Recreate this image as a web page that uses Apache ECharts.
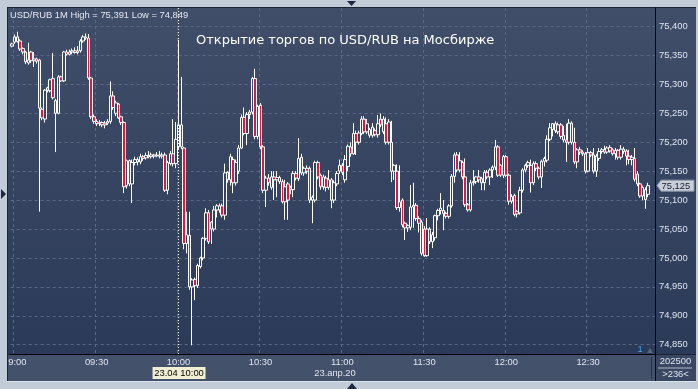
<!DOCTYPE html>
<html><head><meta charset="utf-8">
<script src="https://cdn.jsdelivr.net/npm/echarts@6/dist/echarts.min.js"></script>
<style>html,body{margin:0;padding:0;background:#c2cbd8;overflow:hidden}#c{width:698px;height:389px}</style>
</head><body><div id="c"></div>
<script>
// ---- data (USD/RUB 1-minute candles, 23.04.2020) ----
const opens = [75.366,75.373,75.382,75.375,75.362,75.356,75.337,75.356,75.341,75.344,
75.342,75.257,75.240,75.290,75.289,75.310,75.272,75.250,75.313,75.306,
75.356,75.352,75.356,75.358,75.355,75.358,75.375,75.382,75.380,75.311,
75.244,75.236,75.232,75.234,75.230,75.233,75.236,75.280,75.250,75.266,
75.244,75.234,75.125,75.168,75.128,75.165,75.170,75.166,75.175,75.173,
75.177,75.175,75.178,75.176,75.178,75.176,75.178,75.117,75.163,75.180,
75.163,75.192,75.230,75.190,75.025,75.039,74.950,74.963,74.952,74.985,
75.000,75.034,75.078,75.062,75.050,75.083,75.083,75.090,75.074,75.148,
75.135,75.170,75.130,75.150,75.190,75.243,75.215,75.248,75.252,75.310,
75.210,75.264,75.192,75.117,75.138,75.122,75.140,75.135,75.139,75.132,
75.097,75.128,75.118,75.118,75.146,75.137,75.174,75.147,75.155,75.155,
75.100,75.100,75.165,75.143,75.123,75.138,75.122,75.135,75.100,75.128,
75.150,75.160,75.135,75.158,75.192,75.180,75.215,75.200,75.215,75.240,
75.218,75.222,75.212,75.220,75.213,75.240,75.218,75.232,75.200,75.200,
75.150,75.150,75.087,75.100,75.060,75.052,75.053,75.088,75.091,75.068,
75.062,75.050,75.004,75.050,75.028,75.035,75.073,75.082,75.082,75.077,
75.072,75.090,75.141,75.178,75.152,75.165,75.140,75.092,75.083,75.130,
75.132,75.140,75.137,75.130,75.148,75.140,75.152,75.157,75.192,75.160,
75.143,75.175,75.143,75.098,75.108,75.076,75.078,75.117,75.152,75.160,
75.160,75.130,75.163,75.155,75.140,75.167,75.169,75.205,75.222,75.232,
75.218,75.230,75.212,75.204,75.200,75.233,75.200,75.166,75.187,75.183,
75.180,75.150,75.182,75.178,75.150,75.172,75.184,75.187,75.183,75.191,
75.187,75.180,75.186,75.174,75.188,75.185,75.176,75.170,75.172,75.145,
75.128,75.107,75.118,75.110];
const closes = [75.370,75.382,75.374,75.361,75.356,75.339,75.342,75.341,75.344,75.340,
75.259,75.242,75.290,75.294,75.308,75.277,75.250,75.313,75.306,75.356,
75.352,75.356,75.358,75.355,75.358,75.375,75.382,75.380,75.311,75.244,
75.236,75.232,75.234,75.230,75.233,75.236,75.280,75.260,75.268,75.242,
75.234,75.123,75.168,75.128,75.165,75.170,75.166,75.175,75.172,75.177,
75.175,75.178,75.176,75.178,75.176,75.178,75.117,75.165,75.180,75.163,
75.205,75.230,75.192,75.025,75.040,74.950,74.962,74.952,74.987,75.000,
75.034,75.078,75.028,75.050,75.083,75.090,75.090,75.074,75.147,75.135,
75.175,75.130,75.165,75.190,75.243,75.215,75.248,75.252,75.310,75.210,
75.262,75.192,75.117,75.138,75.130,75.140,75.135,75.139,75.132,75.097,
75.123,75.100,75.121,75.146,75.138,75.172,75.147,75.155,75.150,75.100,
75.105,75.165,75.140,75.123,75.140,75.122,75.135,75.100,75.130,75.146,
75.160,75.148,75.170,75.193,75.180,75.215,75.200,75.216,75.240,75.218,
75.232,75.212,75.226,75.213,75.232,75.230,75.240,75.200,75.235,75.150,
75.160,75.087,75.097,75.057,75.052,75.056,75.088,75.091,75.068,75.060,
75.008,75.004,75.050,75.028,75.040,75.073,75.082,75.086,75.077,75.072,
75.090,75.141,75.178,75.152,75.168,75.140,75.092,75.083,75.130,75.132,
75.140,75.135,75.130,75.148,75.140,75.152,75.157,75.192,75.143,75.143,
75.175,75.143,75.098,75.106,75.075,75.080,75.117,75.152,75.160,75.165,
75.130,75.163,75.155,75.140,75.167,75.172,75.205,75.225,75.232,75.220,
75.230,75.210,75.204,75.200,75.233,75.200,75.166,75.187,75.183,75.180,
75.150,75.182,75.178,75.150,75.176,75.184,75.187,75.183,75.190,75.185,
75.180,75.186,75.174,75.188,75.184,75.176,75.170,75.174,75.136,75.128,
75.107,75.122,75.101,75.125];
const lows = [75.364,75.370,75.372,75.358,75.352,75.335,75.334,75.337,75.330,75.336,
75.080,75.238,75.234,75.286,75.286,75.274,75.183,75.248,75.304,75.304,
75.350,75.350,75.352,75.353,75.352,75.355,75.372,75.377,75.308,75.240,
75.232,75.228,75.228,75.226,75.224,75.230,75.232,75.256,75.245,75.240,
75.230,75.112,75.120,75.124,75.095,75.160,75.160,75.162,75.168,75.170,
75.172,75.172,75.172,75.174,75.172,75.172,75.114,75.110,75.160,75.158,
75.155,75.188,75.188,75.015,75.008,74.945,74.849,74.927,74.948,74.982,
74.996,75.030,75.024,75.024,75.046,75.070,75.078,75.070,75.066,75.130,
75.125,75.112,75.125,75.145,75.188,75.212,75.195,75.240,75.248,75.205,
75.205,75.188,75.112,75.088,75.125,75.118,75.100,75.105,75.128,75.094,
75.066,75.066,75.110,75.105,75.134,75.133,75.143,75.142,75.145,75.095,
75.060,75.096,75.136,75.118,75.118,75.115,75.118,75.086,75.095,75.124,
75.145,75.143,75.130,75.150,75.175,75.178,75.178,75.196,75.212,75.214,
75.214,75.208,75.208,75.210,75.208,75.226,75.214,75.196,75.196,75.131,
75.135,75.083,75.080,75.053,75.031,75.045,75.048,75.052,75.064,75.044,
75.004,75.002,75.002,75.024,75.017,75.030,75.065,75.075,75.048,75.068,
75.068,75.087,75.130,75.148,75.148,75.136,75.088,75.080,75.080,75.125,
75.128,75.130,75.117,75.117,75.136,75.126,75.138,75.152,75.140,75.140,
75.138,75.140,75.092,75.094,75.072,75.070,75.075,75.113,75.148,75.156,
75.113,75.126,75.150,75.136,75.121,75.158,75.165,75.202,75.210,75.216,
75.214,75.206,75.200,75.166,75.196,75.196,75.162,75.155,75.178,75.176,
75.146,75.148,75.174,75.146,75.140,75.168,75.180,75.180,75.180,75.182,
75.177,75.170,75.170,75.170,75.180,75.160,75.162,75.160,75.132,75.124,
75.104,75.100,75.085,75.105];
const highs = [75.372,75.386,75.391,75.378,75.364,75.358,75.372,75.358,75.356,75.346,
75.344,75.260,75.292,75.296,75.310,75.354,75.275,75.316,75.315,75.358,
75.360,75.360,75.362,75.364,75.366,75.378,75.385,75.388,75.387,75.313,
75.248,75.240,75.238,75.236,75.237,75.240,75.305,75.288,75.272,75.268,
75.246,75.236,75.170,75.170,75.170,75.175,75.174,75.180,75.178,75.182,
75.185,75.182,75.180,75.183,75.185,75.182,75.182,75.168,75.185,75.240,
75.235,75.377,75.313,75.192,75.080,75.080,74.965,74.966,74.990,75.002,
75.036,75.086,75.083,75.064,75.090,75.093,75.094,75.094,75.163,75.150,
75.180,75.175,75.170,75.195,75.248,75.260,75.252,75.256,75.313,75.327,
75.265,75.268,75.195,75.142,75.145,75.150,75.150,75.150,75.142,75.136,
75.135,75.131,75.125,75.150,75.150,75.207,75.180,75.158,75.160,75.158,
75.108,75.168,75.168,75.146,75.144,75.142,75.152,75.138,75.134,75.150,
75.170,75.164,75.178,75.196,75.200,75.233,75.220,75.220,75.245,75.245,
75.240,75.225,75.233,75.224,75.247,75.250,75.245,75.243,75.240,75.237,
75.162,75.162,75.160,75.103,75.063,75.058,75.126,75.130,75.095,75.072,
75.066,75.055,75.069,75.053,75.045,75.075,75.085,75.112,75.100,75.080,
75.093,75.145,75.182,75.183,75.183,75.168,75.172,75.095,75.135,75.152,
75.142,75.152,75.140,75.152,75.152,75.155,75.160,75.204,75.195,75.162,
75.178,75.178,75.146,75.110,75.111,75.083,75.123,75.155,75.163,75.168,
75.170,75.167,75.167,75.158,75.170,75.175,75.212,75.233,75.233,75.236,
75.234,75.233,75.228,75.232,75.240,75.236,75.225,75.190,75.192,75.186,
75.183,75.190,75.185,75.190,75.180,75.190,75.190,75.194,75.193,75.195,
75.190,75.190,75.188,75.195,75.192,75.188,75.187,75.178,75.190,75.150,
75.130,75.125,75.122,75.130];
const startMinute = 8 * 60 + 59;   // first bar 08:59
const slotCount = 236;             // bars + empty slots on the time axis
const times = [];
for (let k = 0; k < slotCount; k++) {
  const m = startMinute + k;
  times.push(String(Math.floor(m / 60)).padStart(2, '0') + ':' + String(m % 60).padStart(2, '0'));
}
const crossTime = '10:00';
const crossLabel = '23.04 10:00';
const dateLabel = '23.апр.20';
const titleText = 'Открытие торгов по USD/RUB на Мосбирже';

// ---- build ----
const candles = opens.map((o, i) => [o, closes[i], lows[i], highs[i]]);
const FONT = '"Liberation Sans",Arial,sans-serif';
const FS = 9.4;
const TXT = '#dfe5ef';
const GRIDC = '#5a6986';
const fmt = v => v.toFixed(3).replace('.', ',');
const showLab = (idx, val) => /:(00|30)$/.test(val);

const chart = echarts.init(document.getElementById('c'), null, {renderer: 'canvas'});
chart.setOption({
  animation: false,
  backgroundColor: 'transparent',
  grid: {left: 9, right: 43, top: 8, bottom: 35},
  xAxis: {
    type: 'category', data: times, boundaryGap: true,
    axisLine: {show: true, lineStyle: {color: '#000', width: 1}},
    axisTick: {show: false},
    axisLabel: {interval: showLab, color: TXT, fontSize: FS, fontFamily: FONT, margin: 4},
    splitLine: {show: true, interval: showLab, lineStyle: {color: GRIDC, type: [3, 3], width: 1}}
  },
  yAxis: {
    type: 'value', position: 'right', min: 74.834, max: 75.432, splitNumber: 12,
    axisLine: {show: true, lineStyle: {color: '#000', width: 1}},
    axisTick: {show: false},
    axisLabel: {color: TXT, fontSize: FS, fontFamily: FONT, margin: 4, formatter: fmt,
      showMinLabel: false, showMaxLabel: false},
    splitLine: {show: true, showMinLine: false, showMaxLine: false,
      lineStyle: {color: GRIDC, type: [3, 3], width: 1}}
  },
  series: [{
    type: 'candlestick', data: candles, barWidth: 3,
    itemStyle: {color: 'rgba(0,0,0,0)', color0: '#e3173e', borderColor: '#ffffff', borderColor0: '#ffffff', borderWidth: 1},
    markLine: {
      silent: true, symbol: 'none', label: {show: false},
      lineStyle: {color: '#ffffff', type: [1, 2], width: 1},
      data: [{xAxis: crossTime}]
    }
  }]
});

const lastClose = closes[closes.length - 1];
const ty = chart.convertToPixel({yAxisIndex: 0}, lastClose);
const cx = chart.convertToPixel({xAxisIndex: 0}, crossTime);
const hi = Math.max(...highs), lo = Math.min(...lows);
const mkGrad = () => new echarts.graphic.LinearGradient(0, 0, 0, 1, [{offset: 0, color: '#404e69'}, {offset: 1, color: '#2b3a58'}]);
const f = FS + 'px ' + FONT;

chart.setOption({graphic: [
  // panels (behind)
  {type: 'rect', z: -20, shape: {x: 7, y: 7, width: 689, height: 374}, style: {fill: '#1c2436'}},
  {type: 'rect', z: -19, shape: {x: 8, y: 8, width: 647, height: 346}, style: {fill: mkGrad()}},
  {type: 'rect', z: -19, shape: {x: 656, y: 8, width: 40, height: 346}, style: {fill: mkGrad()}},
  {type: 'rect', z: -19, shape: {x: 8, y: 355, width: 647, height: 26}, style: {fill: '#44516a'}},
  {type: 'rect', z: -19, shape: {x: 656, y: 355, width: 40, height: 26}, style: {fill: '#3a4762'}},
  {type: 'line', z: -18, shape: {x1: 655.5, y1: 354, x2: 655.5, y2: 381}, style: {stroke: '#000', lineWidth: 1}},
  {type: 'line', z: -18, shape: {x1: 651.5, y1: 357, x2: 651.5, y2: 379}, style: {stroke: '#2a3346', lineWidth: 1}},
  // frame overlays
  {type: 'rect', z: 100, shape: {x: 0, y: 0, width: 7, height: 389}, style: {fill: '#c2cbd8'}},
  {type: 'rect', z: 100, shape: {x: 7, y: 381, width: 691, height: 8}, style: {fill: '#c2cbd8'}},
  {type: 'rect', z: 100, shape: {x: 696, y: 0, width: 2, height: 389}, style: {fill: '#c2cbd8'}},
  {type: 'line', z: 101, shape: {x1: 7, y1: 381.5, x2: 696, y2: 381.5}, style: {stroke: '#dde3ec', lineWidth: 1}},
  {type: 'line', z: 101, shape: {x1: 7.5, y1: 7, x2: 7.5, y2: 381}, style: {stroke: '#1c2436', lineWidth: 1}},
  // triangles
  {type: 'polygon', z: 101, shape: {points: [[347, 1], [356, 1], [351.5, 6]]}, style: {fill: '#1d2840'}},
  {type: 'polygon', z: 101, shape: {points: [[347, 389], [357, 389], [352, 383]]}, style: {fill: '#1d2840'}},
  {type: 'polygon', z: 101, shape: {points: [[1, 189], [1, 199], [6, 194]]}, style: {fill: '#1d2840'}},
  // texts
  {type: 'text', z: 50, x: 10, y: 15, style: {text: 'USD/RUB 1M High = ' + fmt(hi) + ' Low = ' + fmt(lo), fill: '#e3e8f0', font: f, verticalAlign: 'middle'}},
  {type: 'text', z: 50, x: 196, y: 41, style: {text: titleText, fill: '#ffffff', font: '13px "DejaVu Sans",Verdana,sans-serif', verticalAlign: 'middle'}},
  {type: 'text', z: 50, x: 335, y: 373, style: {text: dateLabel, fill: TXT, font: f, align: 'center', verticalAlign: 'middle'}},
  {type: 'rect', z: 50, shape: {x: cx - 26, y: 367, width: 53, height: 12}, style: {fill: '#f1efd3'}},
  {type: 'text', z: 51, x: cx + 0.5, y: 373.5, style: {text: crossLabel, fill: '#000', font: f, align: 'center', verticalAlign: 'middle'}},
  {type: 'text', z: 50, x: 640, y: 349.5, style: {text: '1', fill: '#4f9fef', font: f, align: 'center', verticalAlign: 'middle'}},
  {type: 'polygon', z: 50, shape: {points: [[647, 353], [653, 353], [650, 348]]}, style: {fill: '#56647c'}},
  {type: 'text', z: 50, x: 675.5, y: 361.5, style: {text: '202500', fill: TXT, font: f, align: 'center', verticalAlign: 'middle'}},
  {type: 'line', z: 50, shape: {x1: 658, y1: 368, x2: 692, y2: 368}, style: {stroke: '#aeb8c8', lineWidth: 1}},
  {type: 'text', z: 50, x: 675.5, y: 374.5, style: {text: '>236<', fill: TXT, font: f, align: 'center', verticalAlign: 'middle'}},
  // last price tag
  {type: 'polygon', z: 60, shape: {points: [[657, ty], [661, ty - 5.5], [694, ty - 5.5], [694, ty + 5.5], [661, ty + 5.5]]}, style: {fill: '#c9cfd9', stroke: '#8c96a8', lineWidth: 1}},
  {type: 'text', z: 61, x: 661.5, y: ty + 0.5, style: {text: fmt(lastClose), fill: '#151c2a', font: f, verticalAlign: 'middle'}}
]});
</script>
</body></html>
